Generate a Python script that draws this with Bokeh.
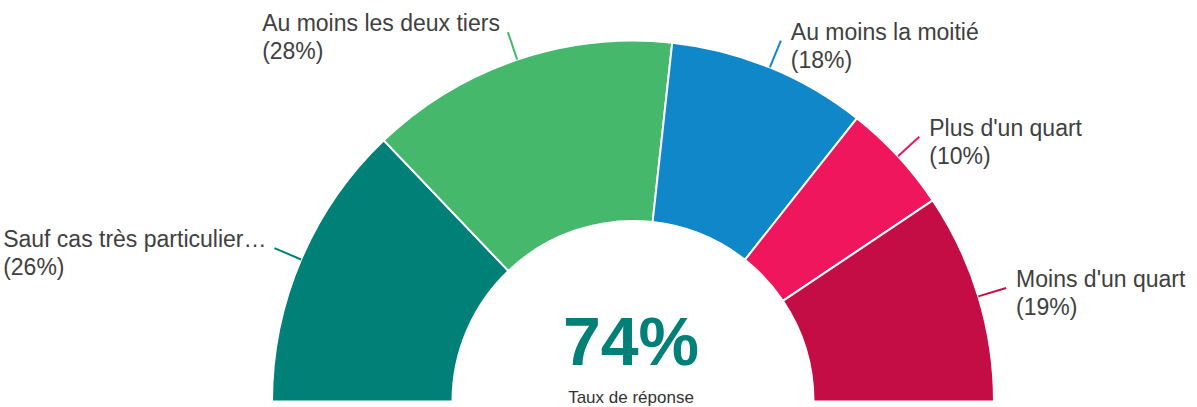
import math
from bokeh.plotting import figure
from bokeh.models import ColumnDataSource, Range1d
from bokeh.core.properties import value
from bokeh.embed import file_html
from bokeh.resources import INLINE

# ---- data ----
categories = ["Sauf cas très particulier…", "Au moins les deux tiers", "Au moins la moitié",
              "Plus d'un quart", "Moins d'un quart"]
shares = [26, 28, 18, 10, 19]
colors = ["#008077", "#45b86c", "#1087c8", "#ef165e", "#c50d45"]
center_value = "74%"
center_caption = "Taux de réponse"

# ---- layout ----
W, H = 1197, 407
CX, CY = 632.5, 6.0
R_OUT, R_IN = 361.0, 180.5
R_LEAD = 390.0
FONT = "Liberation Sans"
LABEL_SIZE = 23
TEXT_COLOR = "#404040"

# Arial/Liberation Sans advance widths (1/1000 em)
ARIAL = {" ": 278, "(": 333, ")": 333, "%": 889, "'": 191, "…": 1000,
         "A": 667, "S": 667, "P": 667, "M": 833,
         "a": 556, "c": 500, "d": 556, "e": 556, "è": 556, "é": 556, "f": 278,
         "i": 222, "l": 222, "m": 833, "n": 556, "o": 556, "p": 556, "q": 556,
         "r": 333, "s": 500, "t": 278, "u": 556, "x": 500}


def text_width(s, size):
    return sum(ARIAL.get(ch, 556) for ch in s) * size / 1000.0


total = float(sum(shares))
starts, ends, mids = [], [], []
ang = math.pi
for v in shares:
    a1 = ang - v / total * math.pi
    starts.append(a1)
    ends.append(ang)
    mids.append((a1 + ang) / 2)
    ang = a1

p = figure(width=W, height=H, x_range=Range1d(0, W), y_range=Range1d(0, H),
           x_axis_type=None, y_axis_type=None, toolbar_location=None,
           output_backend="svg", min_border=0, outline_line_color=None)
p.grid.visible = False
p.background_fill_color = "white"
p.border_fill_color = "white"

wsrc = ColumnDataSource(dict(x=[CX] * len(shares), y=[CY] * len(shares),
                             start=starts, end=ends, color=colors))
p.annular_wedge(x="x", y="y", inner_radius=R_IN, outer_radius=R_OUT,
                start_angle="start", end_angle="end", direction="anticlock",
                fill_color="color", line_color="white", line_width=2, source=wsrc)

# leader lines and labels
x0, y0, x1, y1 = [], [], [], []
lx, l1y, l2y, line1, line2 = [], [], [], [], []
for cat, v, m in zip(categories, shares, mids):
    ax0 = CX + R_OUT * math.cos(m)
    ay0 = CY + R_OUT * math.sin(m)
    ax1 = CX + R_LEAD * math.cos(m)
    ay1 = CY + R_LEAD * math.sin(m)
    x0.append(ax0); y0.append(ay0); x1.append(ax1); y1.append(ay1)
    t1 = cat
    t2 = "(%d%%)" % v
    if math.cos(m) >= 0:
        lx.append(ax1 + 10)
    else:
        lx.append(ax1 - 8 - text_width(t1, LABEL_SIZE))
    l1y.append(ay1 + 9)
    l2y.append(ay1 - 19)
    line1.append(t1)
    line2.append(t2)

lsrc = ColumnDataSource(dict(x0=x0, y0=y0, x1=x1, y1=y1, color=colors))
p.segment(x0="x0", y0="y0", x1="x1", y1="y1", line_color="color", line_width=2, source=lsrc)

tsrc = ColumnDataSource(dict(x=lx, y1=l1y, y2=l2y, t1=line1, t2=line2))
p.text(x="x", y="y1", text="t1", source=tsrc, text_align="left", text_baseline="middle",
       text_font=value(FONT), text_font_size="%dpx" % LABEL_SIZE, text_color=TEXT_COLOR)
p.text(x="x", y="y2", text="t2", source=tsrc, text_align="left", text_baseline="middle",
       text_font=value(FONT), text_font_size="%dpx" % LABEL_SIZE, text_color=TEXT_COLOR)

# center texts
p.text(x=[CX - 2], y=[CY + 61], text=[center_value], text_align="center", text_baseline="middle",
       text_font=value(FONT), text_font_style="bold", text_font_size="68px", text_color=colors[0])
p.text(x=[CX - 2], y=[CY + 4], text=[center_caption], text_align="center", text_baseline="alphabetic",
       text_font=value(FONT), text_font_size="17px", text_color="#333333")

open("out.html", "w").write(file_html(p, INLINE))
